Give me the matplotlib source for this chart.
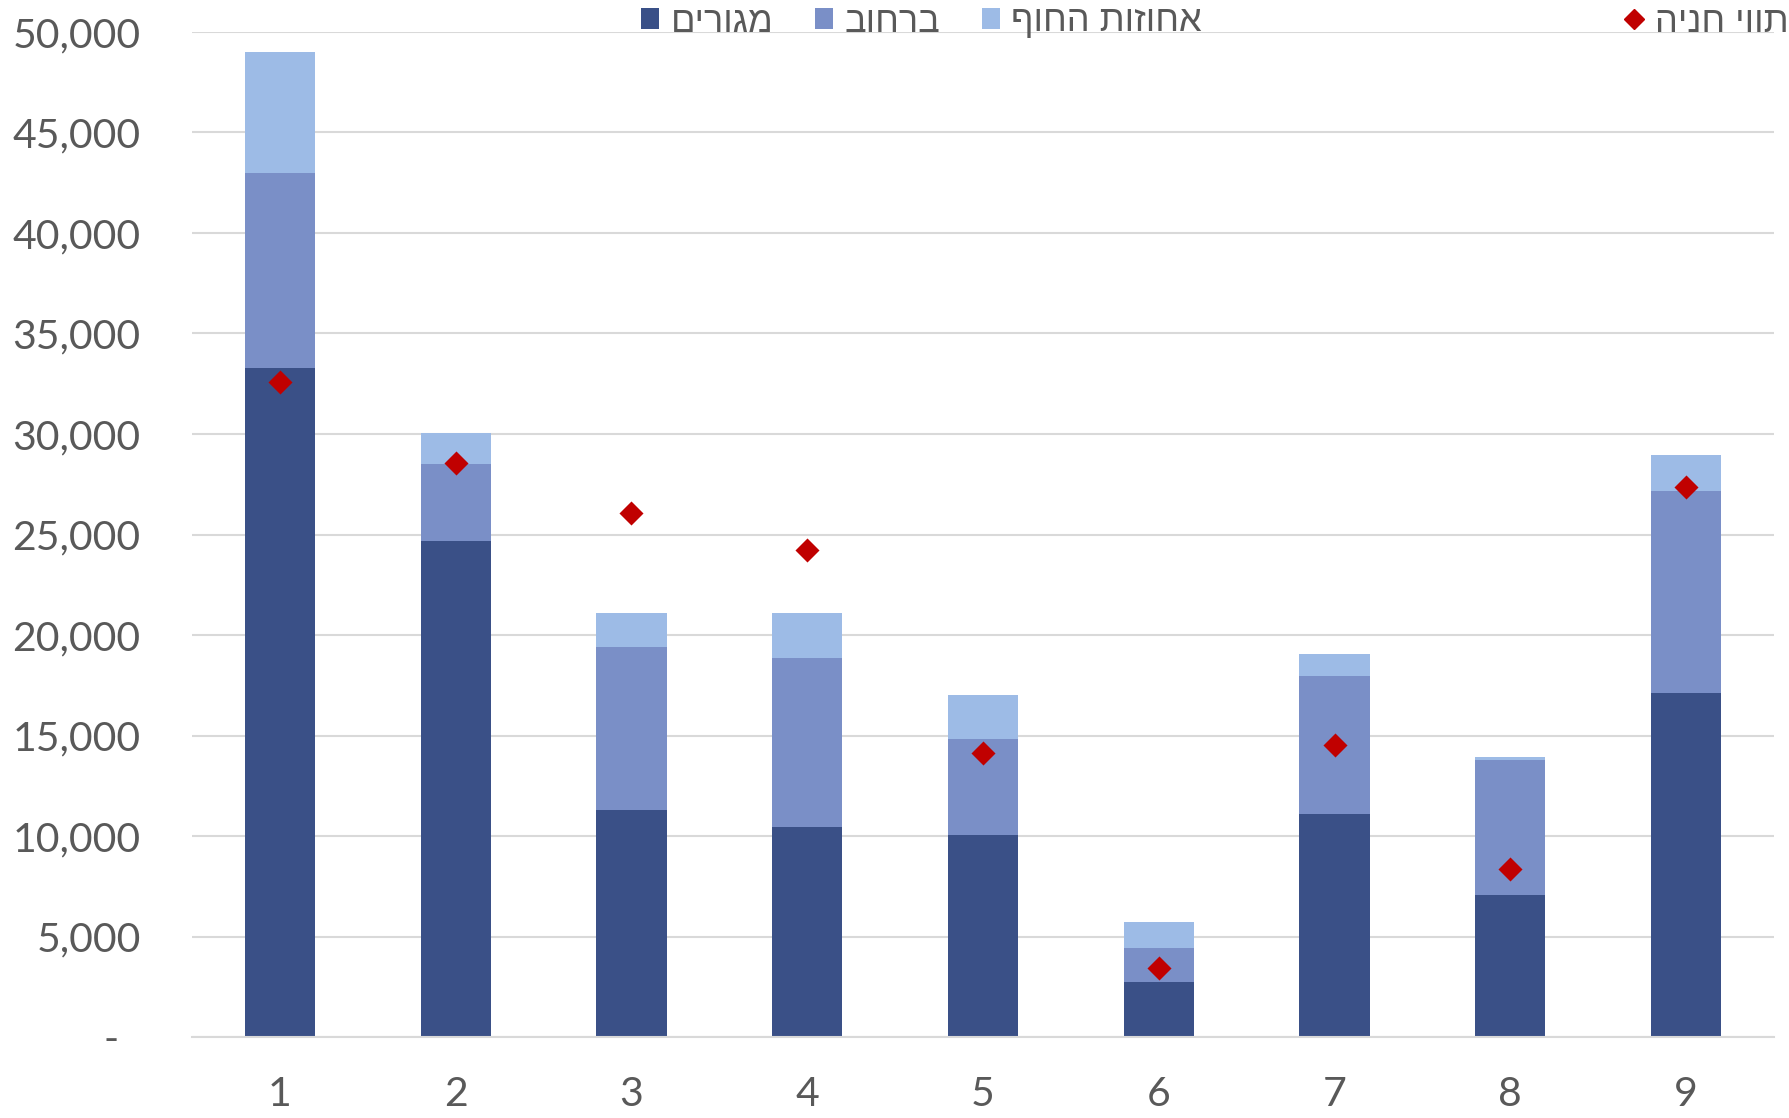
import numpy as np
import matplotlib
matplotlib.use('Agg')
import matplotlib.pyplot as plt
from matplotlib.patches import Patch
from matplotlib.lines import Line2D
from matplotlib.ticker import FuncFormatter

# data
categories = ['1', '2', '3', '4', '5', '6', '7', '8', '9']
residential = [33300, 24700, 11300, 10450, 10050, 2750, 11100, 7050, 17100]   # מגורים
street      = [9700, 3800, 8100, 8400, 4800, 1700, 6850, 6750, 10050]          # ברחוב
beach       = [6000, 1550, 1700, 2250, 2150, 1250, 1100, 150, 1800]            # אחוזות החוף
parking     = [32600, 28550, 26050, 24250, 14150, 3450, 14550, 8350, 27350]    # תווי חניה

lab_res   = 'מגורים'
lab_str   = 'ברחוב'
lab_beach = 'אחוזות החוף'
lab_park  = 'תווי חניה'

def rtl(s):
    # matplotlib lays glyphs left to right
    return s[::-1]

C_DARK, C_MID, C_LIGHT = '#3A5087', '#7A8FC7', '#9DBBE6'
C_RED = '#C00000'
GREY = '#595959'

plt.rcParams['font.family'] = ['Lato', 'DejaVu Sans']

fig = plt.figure(figsize=(17.89, 11.18), dpi=100)
ax = fig.add_axes([192/1789, 1-1037/1118, (1774-192)/1789, (1037-32)/1118])

x = np.arange(len(categories))
res = np.array(residential)
st = np.array(street)
be = np.array(beach)
w = 0.4
ax.bar(x, res, w, color=C_DARK, zorder=2)
ax.bar(x, st, w, bottom=res, color=C_MID, zorder=2)
ax.bar(x, be, w, bottom=res+st, color=C_LIGHT, zorder=2)
ax.scatter(x, parking, marker='D', s=150, color=C_RED, zorder=4, linewidths=0)

ax.set_xlim(-0.5, len(categories)-0.5)
ax.set_ylim(0, 50000)
ax.set_yticks(np.arange(0, 50001, 5000))
ax.yaxis.set_major_formatter(FuncFormatter(lambda v, p: '-  ' if v == 0 else f'{int(v):,}'))
ax.set_xticks(x)
ax.set_xticklabels(categories)
ax.yaxis.grid(True, color='#D9D9D9', linewidth=1.5, zorder=0)
ax.set_axisbelow(True)
for s in ['top', 'right', 'left']:
    ax.spines[s].set_visible(False)
ax.spines['bottom'].set_color('#D9D9D9')
ax.spines['bottom'].set_linewidth(1.5)
ax.tick_params(axis='both', length=0, labelsize=29.5, colors=GREY)
ax.tick_params(axis='y', pad=37)
ax.tick_params(axis='x', pad=28)

leg_font = {'family': ['Liberation Sans', 'DejaVu Sans'], 'size': 26}
h1 = [Patch(facecolor=C_DARK), Patch(facecolor=C_MID), Patch(facecolor=C_LIGHT)]
leg1 = fig.legend(h1, [rtl(lab_res), rtl(lab_str), rtl(lab_beach)], ncol=3,
                  loc='center left', bbox_to_anchor=(641/1789, 1-22/1118), frameon=False,
                  prop=leg_font, labelcolor=GREY, handlelength=0.5, handleheight=0.5,
                  handletextpad=0.32, columnspacing=1.15, borderaxespad=0, borderpad=0)
h2 = [Line2D([], [], marker='D', color=C_RED, linestyle='none', markersize=10)]
leg2 = fig.legend(h2, [rtl(lab_park)], loc='center right', bbox_to_anchor=(1.0, 1-22/1118),
                  frameon=False, prop=leg_font, labelcolor=GREY, handlelength=0.6,
                  handletextpad=0.3, borderaxespad=0, borderpad=0)

fig.savefig('out.png', dpi=100)
plt.close()
